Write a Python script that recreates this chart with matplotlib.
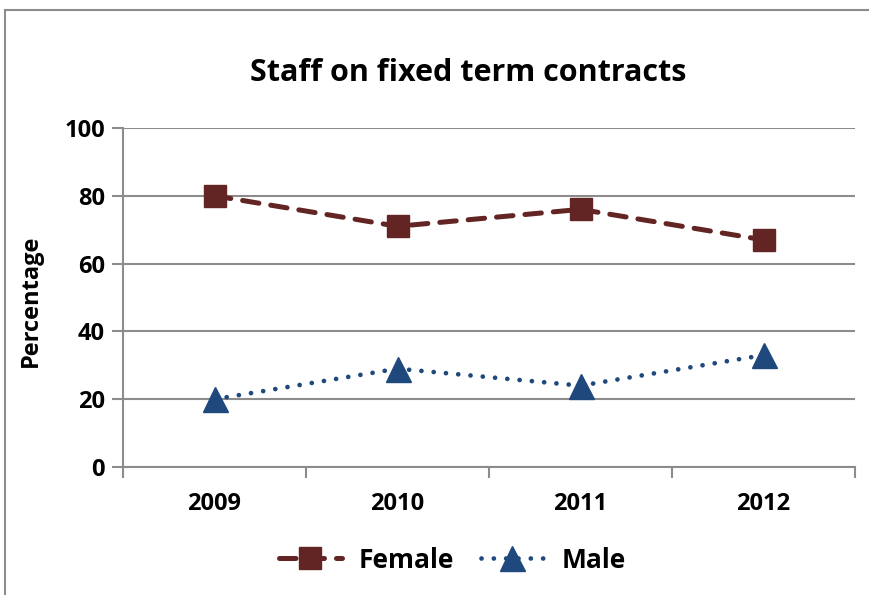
import matplotlib
matplotlib.use("Agg")
import matplotlib.pyplot as plt
from matplotlib.patches import Rectangle
from matplotlib.lines import Line2D

years = ["2009", "2010", "2011", "2012"]
female = [80, 71, 76, 67]
male = [20, 29, 24, 33]
y_ticks = [0, 20, 40, 60, 80, 100]

FEMALE_C = "#632523"
MALE_C = "#1F497D"
GRID_C = "#8C8C8C"

plt.rcParams["font.family"] = ["Open Sans", "DejaVu Sans"]
plt.rcParams["font.weight"] = "bold"

W, H = 870, 595
fig = plt.figure(figsize=(W / 100, H / 100), dpi=100)

# outer chart frame (runs past the right and bottom edges)
fig.patches.append(Rectangle((5 / W, -0.1), 1.2, 1 - 10 / H + 0.1,
                             transform=fig.transFigure, fill=False,
                             edgecolor="#8C8C8C", linewidth=1.5, zorder=0))

ax = fig.add_axes([123 / W, 1 - 467 / H, (855 - 123) / W, (467 - 128) / H])
x = list(range(len(years)))

F_STYLE = dict(color=FEMALE_C, linewidth=3.6, linestyle=(0, (3.3, 2.4)),
               dash_capstyle="round", marker="s", markersize=16,
               markeredgecolor=FEMALE_C)
M_STYLE = dict(color=MALE_C, linewidth=3.4, linestyle=(0, (0.01, 2.6)),
               dash_capstyle="round", marker="^", markersize=18,
               markeredgecolor=MALE_C)

ax.plot(x, female, zorder=3, **F_STYLE)
ax.plot(x, male, zorder=3, **M_STYLE)

ax.set_xlim(-0.5, len(years) - 0.5)
ax.set_ylim(0, 100)
ax.set_yticks(y_ticks)
ax.set_yticklabels([str(v) for v in y_ticks], fontsize=17, fontweight="bold")
ax.set_xticks(x)
ax.set_xticklabels(years, fontsize=17, fontweight="bold")
ax.tick_params(axis="x", length=0, pad=18)
ax.set_xticks([i - 0.5 for i in range(len(years) + 1)], minor=True)
ax.tick_params(axis="x", which="minor", length=8, color=GRID_C, width=1.5, direction="out")
ax.tick_params(axis="y", length=8, color=GRID_C, width=1.5, direction="out", pad=5)

ax.grid(axis="y", color=GRID_C, linewidth=1.5)
ax.set_axisbelow(True)
for s in ["top", "right"]:
    ax.spines[s].set_visible(False)
for s in ["left", "bottom"]:
    ax.spines[s].set_color(GRID_C)
    ax.spines[s].set_linewidth(1.5)

ax.set_ylabel("Percentage", fontsize=17, fontweight="bold")
ax.yaxis.set_label_coords(-(123 - 43) / (855 - 123), 0.49)

fig.text(468 / W, 1 - 73 / H, "Staff on fixed term contracts",
         ha="center", va="center", fontsize=22, fontweight="bold")

handles = [Line2D([], [], **F_STYLE), Line2D([], [], **M_STYLE)]
fig.legend(handles, ["Female", "Male"], loc="center", bbox_to_anchor=(452 / W, 1 - 560 / H),
           ncol=2, frameon=False, handlelength=2.4, handletextpad=0.65, columnspacing=1.0,
           prop={"size": 19, "weight": "bold"})

fig.savefig("out.png", dpi=100)
